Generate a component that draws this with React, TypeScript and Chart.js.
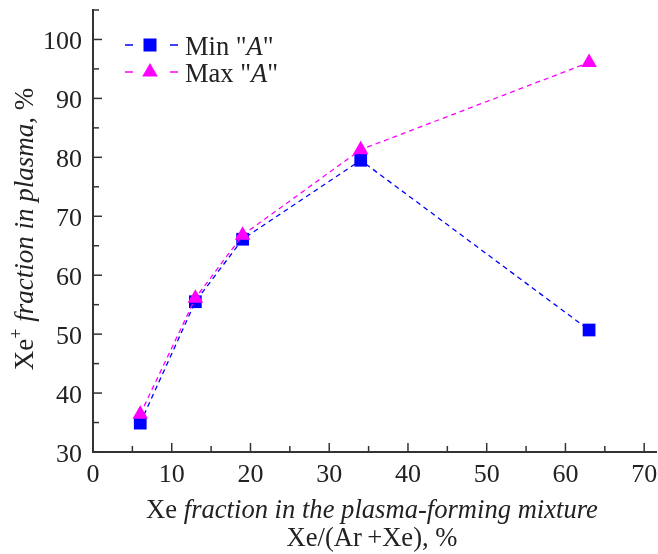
import React, { useEffect, useRef } from "react";
import { Chart, registerables } from "chart.js";

Chart.register(...registerables);

const xValues = [6, 13, 19, 34, 63];
const minA = [34.9, 55.5, 66.1, 79.5, 50.7];
const maxA = [36.4, 56.1, 66.8, 81.3, 96.1];

const xTickMin = 0;
const xTickMax = 71.5;
const yTickMin = 30;
const yTickMax = 105;
const xTickLabels = [0, 10, 20, 30, 40, 50, 60, 70];
const yTickLabels = [30, 40, 50, 60, 70, 80, 90, 100];

const BLUE = "#0000ff";
const MAGENTA = "#ff00ff";
const TEXT = "#222222";
const AXIS = "#333333";
const FONT = '"Liberation Serif", "Times New Roman", serif';

Chart.defaults.font.family = FONT;

type Seg = { t: string; italic?: boolean; sup?: boolean };

function drawSegs(ctx: CanvasRenderingContext2D, segs: Seg[], cx: number, y: number, size: number) {
  const fontFor = (s: Seg) => `${s.italic ? "italic " : ""}${s.sup ? Math.round(size * 0.65) : size}px ${FONT}`;
  let total = 0;
  const widths = segs.map((s) => {
    ctx.font = fontFor(s);
    const w = ctx.measureText(s.t).width;
    total += w;
    return w;
  });
  let x = cx - total / 2;
  segs.forEach((s, i) => {
    ctx.font = fontFor(s);
    ctx.fillText(s.t, x, s.sup ? y - size * 0.42 : y);
    x += widths[i];
  });
}

function drawSegsLeft(ctx: CanvasRenderingContext2D, segs: Seg[], x0: number, y: number, size: number) {
  let x = x0;
  segs.forEach((s) => {
    ctx.font = `${s.italic ? "italic " : ""}${size}px ${FONT}`;
    ctx.fillText(s.t, x, y);
    x += ctx.measureText(s.t).width;
  });
}

const decorPlugin = {
  id: "decor",
  afterDraw(chart: any) {
    const ctx: CanvasRenderingContext2D = chart.ctx;
    const xs = chart.scales.x;
    const ys = chart.scales.y;
    const area = chart.chartArea;
    ctx.save();
    // inward ticks
    ctx.strokeStyle = AXIS;
    ctx.lineWidth = 1.5;
    xs.ticks.forEach((t: any) => {
      if (t.value % 5 !== 0) return;
      const px = xs.getPixelForValue(t.value);
      const len = t.value % 10 === 0 ? 9 : 6;
      ctx.beginPath();
      ctx.moveTo(px, area.bottom);
      ctx.lineTo(px, area.bottom - len);
      ctx.stroke();
    });
    ys.ticks.forEach((t: any) => {
      if (t.value % 5 !== 0) return;
      const py = ys.getPixelForValue(t.value);
      const len = t.value % 10 === 0 ? 9 : 6;
      ctx.beginPath();
      ctx.moveTo(area.left, py);
      ctx.lineTo(area.left + len, py);
      ctx.stroke();
    });

    // tick labels
    ctx.fillStyle = TEXT;
    ctx.font = `26px ${FONT}`;
    ctx.textBaseline = "alphabetic";
    ctx.textAlign = "center";
    xTickLabels.forEach((v) => {
      ctx.fillText(String(v), xs.getPixelForValue(v), 482);
    });
    ctx.textAlign = "right";
    yTickLabels.forEach((v) => {
      ctx.fillText(String(v), area.left - 11, ys.getPixelForValue(v) + 9.5);
    });

    // axis titles
    ctx.textAlign = "left";
    const cx = (area.left + area.right) / 2 - 2.5;
    drawSegs(ctx, [{ t: "Xe" }, { t: " fraction in the plasma-forming mixture", italic: true }], cx, 518, 26.6);
    drawSegs(ctx, [{ t: "Xe/(Ar\u2009+Xe), %" }], cx, 546, 26.6);

    ctx.save();
    ctx.translate(33, (area.top + area.bottom) / 2 - 2);
    ctx.rotate(-Math.PI / 2);
    drawSegs(
      ctx,
      [{ t: "Xe" }, { t: "+", sup: true }, { t: " fraction in plasma,", italic: true }, { t: " %" }],
      0,
      0,
      27
    );
    ctx.restore();

    // legend
    const ds = chart.data.datasets;
    const rows = [
      { y: 45, ds: ds[1], label: [{ t: 'Min "' }, { t: "A", italic: true }, { t: '"' }] },
      { y: 72, ds: ds[0], label: [{ t: 'Max "' }, { t: "A", italic: true }, { t: '"' }] },
    ];
    rows.forEach((r) => {
      ctx.strokeStyle = r.ds.borderColor;
      ctx.lineWidth = 1.3;
      ctx.beginPath();
      ctx.moveTo(125, r.y);
      ctx.lineTo(133, r.y);
      ctx.moveTo(170, r.y);
      ctx.lineTo(178, r.y);
      ctx.stroke();
      ctx.fillStyle = r.ds.pointBackgroundColor;
      ctx.beginPath();
      if (r.ds.pointStyle === "rect") {
        ctx.rect(150 - 6.5, r.y - 6.5, 13, 13);
      } else {
        const rad = r.ds.pointRadius;
        ctx.moveTo(150, r.y - rad);
        ctx.lineTo(150 + rad * 0.866, r.y + rad * 0.5);
        ctx.lineTo(150 - rad * 0.866, r.y + rad * 0.5);
        ctx.closePath();
      }
      ctx.fill();
      ctx.fillStyle = TEXT;
      drawSegsLeft(ctx, r.label, 185, r.y + 10, 26.5);
    });
    ctx.restore();
  },
};

const zeroPad = (s: any) => {
  s.paddingTop = 0;
  s.paddingBottom = 0;
  s.paddingLeft = 0;
  s.paddingRight = 0;
};

export default function App() {
  const ref = useRef<HTMLCanvasElement>(null);
  useEffect(() => {
    document.body.style.margin = "0";
    const canvas = ref.current!;
    const chart = new Chart(canvas, {
      type: "scatter",
      data: {
        datasets: [
          {
            label: 'Max "A"',
            data: xValues.map((x, i) => ({ x, y: maxA[i] })),
            showLine: true,
            borderColor: MAGENTA,
            backgroundColor: MAGENTA,
            pointBackgroundColor: MAGENTA,
            pointBorderColor: MAGENTA,
            pointStyle: "triangle",
            pointRadius: 9,
            pointBorderWidth: 0,
            borderWidth: 1.3,
            borderDash: [5, 4],
            order: 0,
          },
          {
            label: 'Min "A"',
            data: xValues.map((x, i) => ({ x, y: minA[i] })),
            showLine: true,
            borderColor: BLUE,
            backgroundColor: BLUE,
            pointBackgroundColor: BLUE,
            pointBorderColor: BLUE,
            pointStyle: "rect",
            pointRadius: 9,
            pointBorderWidth: 0,
            borderWidth: 1.3,
            borderDash: [5, 4],
            order: 1,
          },
        ],
      },
      options: {
        animation: false,
        responsive: false,
        layout: { autoPadding: false, padding: { left: 0, right: 2, top: 10, bottom: 0 } },
        plugins: { legend: { display: false }, tooltip: { enabled: false } },
        scales: {
          x: {
            type: "linear",
            min: xTickMin,
            max: xTickMax,
            grid: { display: false, drawTicks: false },
            border: { display: true, color: AXIS, width: 2 },
            ticks: { display: false, stepSize: 5, includeBounds: false, autoSkip: false },
            afterFit: (s: any) => {
              s.height = 102;
              zeroPad(s);
            },
          },
          y: {
            type: "linear",
            min: yTickMin,
            max: yTickMax,
            grid: { display: false, drawTicks: false },
            border: { display: true, color: AXIS, width: 2 },
            ticks: { display: false, stepSize: 5, autoSkip: false },
            afterFit: (s: any) => {
              s.width = 93;
              zeroPad(s);
            },
          },
        },
      },
      plugins: [decorPlugin],
    } as any);
    return () => chart.destroy();
  }, []);
  return (
    <div style={{ width: 658, height: 554 }}>
      <canvas ref={ref} width={658} height={554} />
    </div>
  );
}
